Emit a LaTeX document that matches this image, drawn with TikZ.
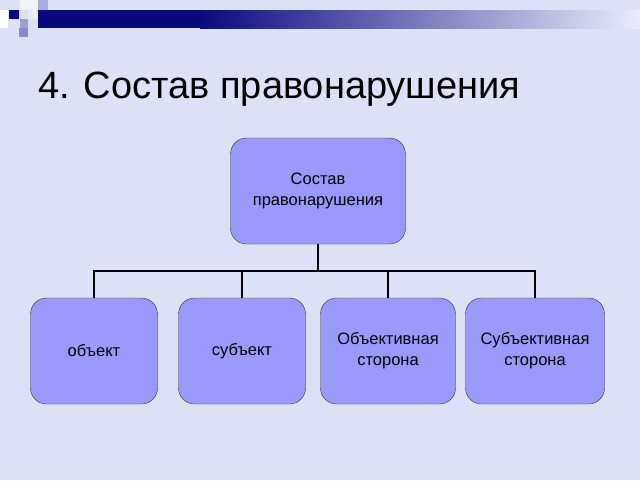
\documentclass[tikz,border=0pt]{standalone}
\usepackage{fontspec}
\setmainfont{Liberation Sans}
\usetikzlibrary{positioning}
\definecolor{slidebg}{HTML}{DDE0F6}
\definecolor{boxfill}{HTML}{9999FF}
\definecolor{navy}{HTML}{0A0A80}
\tikzset{x=1pt, y=-1pt,
  part box/.style={draw=black!80, fill=boxfill, rounded corners=16pt,
    minimum height=106pt, align=center, font=\fontsize{16.5}{21}\selectfont},
  tree line/.style={draw=black, line width=1.6pt}}
\begin{document}
\begin{tikzpicture}
\fill[slidebg] (0,0) rectangle (640,480);
\useasboundingbox (0,0) rectangle (640,480);
% top decoration
\fill[navy] (38,10) rectangle (200,28);
\shade[left color=navy, right color=slidebg!60!white] (200,10) rectangle (640,28);
\fill[navy] (9,10) rectangle (19,19);
\fill[white!60!slidebg] (20,0) rectangle (38,10);
\fill[white!40!slidebg] (28,10) rectangle (38,19);
\fill[navy!25!slidebg] (38,0) rectangle (48,10);
\fill[navy!30!slidebg] (20,19) rectangle (28,28);
\fill[navy!40!slidebg] (19,28) rectangle (28,37);
\fill[white] (0,10) rectangle (8,28);
\node[anchor=base west, inner sep=0pt, font=\fontsize{38}{44}\selectfont] (title) at (38,98) {4. Состав правонарушения};

\node[part box, minimum width=175pt] (root) at (318,191) {Состав\\правонарушения};
\node[part box, minimum width=127pt] (obj) at (94,351) {объект};
\node[part box, minimum width=127pt] (subj) at (242,351) {субъект};
\node[part box, minimum width=135pt] (objside) at (388,351) {Объективная\\сторона};
\node[part box, minimum width=139pt] (subjside) at (535,351) {Субъективная\\сторона};

\coordinate (fork) at (318,271);
\draw[tree line] (root.south) -- (fork);
\foreach \child in {obj, subj, objside, subjside}
  \draw[tree line] (fork) -| (\child.north);
\end{tikzpicture}
\end{document}
